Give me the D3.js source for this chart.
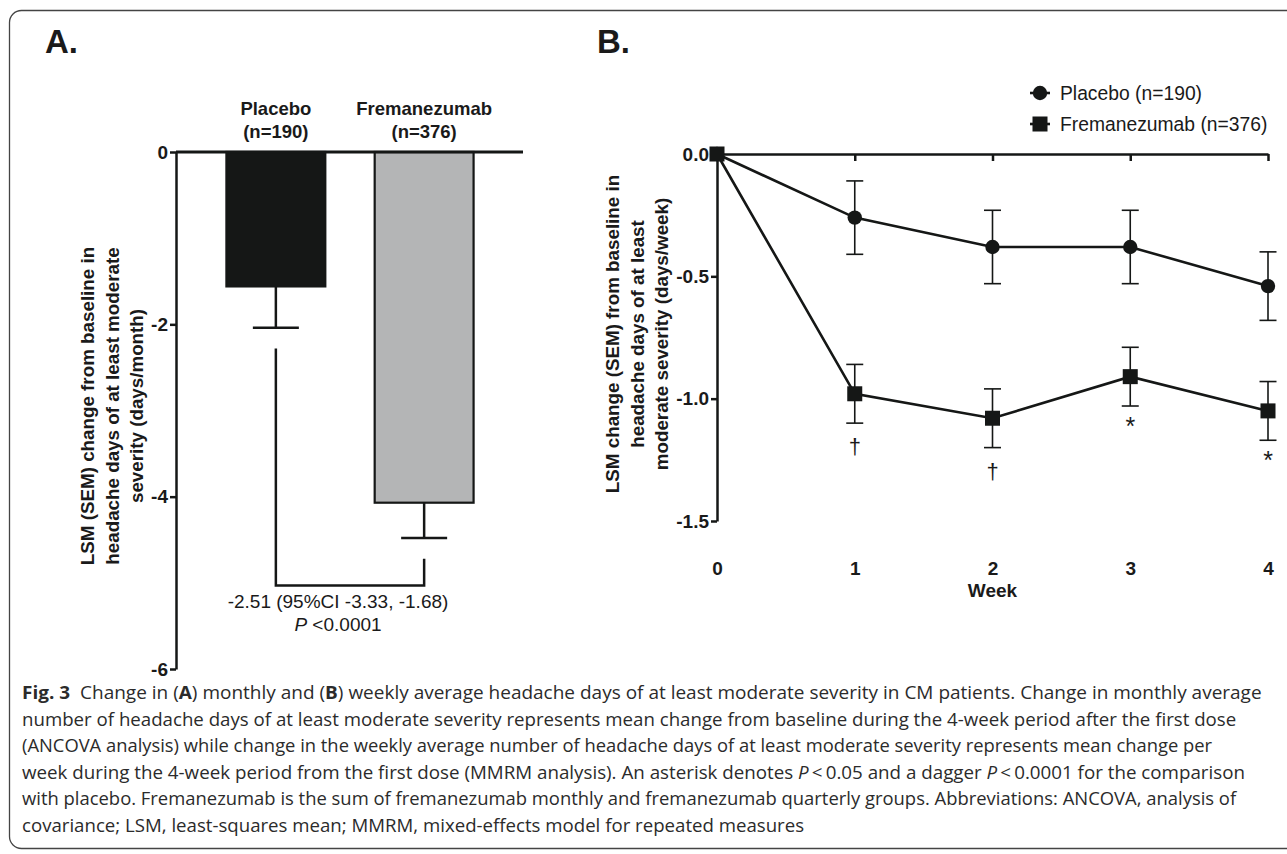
<!DOCTYPE html>
<html>
<head>
<meta charset="utf-8">
<script src="https://cdn.jsdelivr.net/npm/d3@7"></script>
<style>
  html, body { margin: 0; padding: 0; background: #fff; }
  svg { display: block; }
  .chart text { font-family: "Liberation Sans", Arial, sans-serif; fill: #1a1a1a; }
  .cap text { font-family: "Open Sans", "Noto Sans", sans-serif; fill: #2b2b2b; }
</style>
</head>
<body>
<svg id="fig" width="1287" height="854"></svg>
<script>
// ---------------- DATA ----------------
// Panel A (monthly)
const categoriesA = ["Placebo", "Fremanezumab"];
const nLabelsA = ["(n=190)", "(n=376)"];
const meanA = [-1.56, -4.07];
const semA = [0.48, 0.41];
const yTicksA = [0, -2, -4, -6];
const diffText = "-2.51 (95%CI -3.33, -1.68)";
const pText = "<0.0001";

// Panel B (weekly)
const weeks = [0, 1, 2, 3, 4];
const placeboMean = [0, -0.26, -0.38, -0.38, -0.54];
const placeboSem  = [0, 0.15, 0.15, 0.15, 0.14];
const fremMean    = [0, -0.98, -1.08, -0.91, -1.05];
const fremSem     = [0, 0.12, 0.12, 0.12, 0.12];
const sigMarks    = ["", "\u2020", "\u2020", "*", "*"];
const yTicksB = [0, -0.5, -1.0, -1.5];
const seriesNames = ["Placebo (n=190)", "Fremanezumab (n=376)"];

// Caption
const captionLines = [
  [["Fig. 3", "b"], ["\u00a0\u00a0Change in ("], ["A", "b"], [") monthly and ("], ["B", "b"], [") weekly average headache days of at least moderate severity in CM patients. Change in monthly average"]],
  [["number of headache days of at least moderate severity represents mean change from baseline during the 4-week period after the first dose"]],
  [["(ANCOVA analysis) while change in the weekly average number of headache days of at least moderate severity represents mean change per"]],
  [["week during the 4-week period from the first dose (MMRM analysis). An asterisk denotes "], ["P", "i"], ["\u2009<\u20090.05 and a dagger "], ["P", "i"], ["\u2009<\u20090.0001 for the comparison"]],
  [["with placebo. Fremanezumab is the sum of fremanezumab monthly and fremanezumab quarterly groups. Abbreviations: ANCOVA, analysis of"]],
  [["covariance; LSM, least-squares mean; MMRM, mixed-effects model for repeated measures"]]
];

// ---------------- DRAW ----------------
const svg = d3.select("#fig");

// frame
svg.append("rect")
  .attr("x", 9.5).attr("y", 10.5).attr("width", 1300).attr("height", 838)
  .attr("rx", 12).attr("ry", 12)
  .attr("fill", "none").attr("stroke", "#444").attr("stroke-width", 1.3);

const chart = svg.append("g").attr("class", "chart");

// panel letters
chart.append("text").attr("x", 45).attr("y", 53).attr("font-size", 33).attr("font-weight", "bold").text("A.");
chart.append("text").attr("x", 597).attr("y", 53).attr("font-size", 33).attr("font-weight", "bold").text("B.");

// ===== Panel A =====
const yA = d3.scaleLinear().domain([0, -6]).range([152, 669]);
const xA = d3.scaleBand().domain(categoriesA).range([176, 524]).paddingInner(0.333).paddingOuter(0.34);

const gA = chart.append("g");

// bars
gA.selectAll("rect.bar").data(categoriesA).join("rect")
  .attr("class", "bar")
  .attr("x", d => xA(d))
  .attr("y", yA(0))
  .attr("width", xA.bandwidth())
  .attr("height", (d, i) => yA(meanA[i]) - yA(0))
  .attr("fill", (d, i) => i === 0 ? "#151716" : "#b4b5b6")
  .attr("stroke", "#151716").attr("stroke-width", 2.2);

// error bars
const capA = 46;
categoriesA.forEach((c, i) => {
  const cx = xA(c) + xA.bandwidth() / 2;
  gA.append("line").attr("x1", cx).attr("x2", cx)
    .attr("y1", yA(meanA[i])).attr("y2", yA(meanA[i] - semA[i]))
    .attr("stroke", "#151716").attr("stroke-width", 2.5);
  gA.append("line").attr("x1", cx - capA / 2).attr("x2", cx + capA / 2)
    .attr("y1", yA(meanA[i] - semA[i])).attr("y2", yA(meanA[i] - semA[i]))
    .attr("stroke", "#151716").attr("stroke-width", 2.5);
  // category labels
  gA.append("text").attr("x", cx).attr("y", 115).attr("text-anchor", "middle")
    .attr("font-size", 18.5).attr("font-weight", "bold").text(c);
  gA.append("text").attr("x", cx).attr("y", 138).attr("text-anchor", "middle")
    .attr("font-size", 18.5).attr("font-weight", "bold").text(nLabelsA[i]);
});

// zero line across
gA.append("line").attr("x1", 176).attr("x2", 523).attr("y1", yA(0)).attr("y2", yA(0))
  .attr("stroke", "#151716").attr("stroke-width", 3);

// y axis
const axA = gA.append("g").attr("transform", "translate(176,0)")
  .call(d3.axisLeft(yA).tickValues(yTicksA).tickSize(6).tickSizeOuter(0).tickFormat(d => String(d)));
axA.select(".domain").attr("stroke", "#151716").attr("stroke-width", 2.5);
axA.selectAll(".tick line").attr("stroke", "#151716").attr("stroke-width", 2.5);
axA.selectAll(".tick text").attr("font-size", 19).attr("font-weight", "bold")
  .attr("font-family", "Liberation Sans, Arial, sans-serif").attr("fill", "#1a1a1a").attr("dx", 1);

// y label A
const labA = ["LSM (SEM) change from baseline in", "headache days of at least moderate", "severity (days/month)"];
labA.forEach((t, i) => {
  gA.append("text")
    .attr("transform", `translate(${94 + i * 24.5},406) rotate(-90)`)
    .attr("text-anchor", "middle").attr("font-size", 18.8).attr("font-weight", "bold").text(t);
});

// bracket
const cxP = xA(categoriesA[0]) + xA.bandwidth() / 2;
const cxF = xA(categoriesA[1]) + xA.bandwidth() / 2;
const bracketVal = -5.03;
const gapVal = 0.24;
gA.append("path")
  .attr("d", `M${cxP},${yA(meanA[0] - semA[0] - gapVal)} V${yA(bracketVal)} H${cxF} V${yA(meanA[1] - semA[1] - gapVal)}`)
  .attr("fill", "none").attr("stroke", "#151716").attr("stroke-width", 2.5);
gA.append("text").attr("x", 338).attr("y", 608).attr("text-anchor", "middle")
  .attr("font-size", 19).text(diffText);
const pt = gA.append("text").attr("x", 338).attr("y", 631).attr("text-anchor", "middle").attr("font-size", 19);
pt.append("tspan").attr("font-style", "italic").text("P");
pt.append("tspan").text(" " + pText);

// ===== Panel B =====
const xB = d3.scaleLinear().domain([0, 4]).range([717, 1268]);
const yB = d3.scaleLinear().domain([0, -1.5]).range([154, 521]);
const gB = chart.append("g");

// top axis line at y=0 with ticks down
const axTop = gB.append("g").attr("transform", `translate(0,${yB(0)})`)
  .call(d3.axisBottom(xB).tickValues(weeks.slice(1)).tickSize(7).tickSizeOuter(0).tickFormat(""));
axTop.select(".domain").attr("stroke", "#151716").attr("stroke-width", 2.5);
axTop.selectAll(".tick line").attr("stroke", "#151716").attr("stroke-width", 2.5);

// bottom tick labels (no line)
const axBot = gB.append("g").attr("transform", "translate(0,558)")
  .call(d3.axisBottom(xB).tickValues(weeks).tickSize(0).tickFormat(d => String(d)));
axBot.select(".domain").remove();
axBot.selectAll(".tick text").attr("font-size", 19).attr("font-weight", "bold")
  .attr("font-family", "Liberation Sans, Arial, sans-serif").attr("fill", "#1a1a1a");
gB.append("text").attr("x", xB(2)).attr("y", 597).attr("text-anchor", "middle")
  .attr("font-size", 19).attr("font-weight", "bold").text("Week");

// y axis
const axB = gB.append("g").attr("transform", `translate(${xB(0)},0)`)
  .call(d3.axisLeft(yB).tickValues(yTicksB).tickSize(6).tickSizeOuter(0).tickFormat(d => d.toFixed(1)));
axB.select(".domain").attr("stroke", "#151716").attr("stroke-width", 2.5);
axB.selectAll(".tick line").attr("stroke", "#151716").attr("stroke-width", 2.5);
axB.selectAll(".tick text").attr("font-size", 19).attr("font-weight", "bold")
  .attr("font-family", "Liberation Sans, Arial, sans-serif").attr("fill", "#1a1a1a").attr("dx", 1);

// y label B
const labB = ["LSM change (SEM) from baseline in", "headache days of at least", "moderate severity (days/week)"];
labB.forEach((t, i) => {
  gB.append("text")
    .attr("transform", `translate(${619 + i * 24.5},334) rotate(-90)`)
    .attr("text-anchor", "middle").attr("font-size", 18.8).attr("font-weight", "bold").text(t);
});

// error bars
const capB = 17;
function errBars(mean, sem) {
  weeks.forEach((w, i) => {
    if (sem[i] === 0) return;
    const cx = xB(w);
    gB.append("line").attr("x1", cx).attr("x2", cx)
      .attr("y1", yB(mean[i] + sem[i])).attr("y2", yB(mean[i] - sem[i]))
      .attr("stroke", "#151716").attr("stroke-width", 1.6);
    [mean[i] + sem[i], mean[i] - sem[i]].forEach(v => {
      gB.append("line").attr("x1", cx - capB / 2).attr("x2", cx + capB / 2)
        .attr("y1", yB(v)).attr("y2", yB(v))
        .attr("stroke", "#151716").attr("stroke-width", 1.6);
    });
  });
}
errBars(placeboMean, placeboSem);
errBars(fremMean, fremSem);

const line = d3.line().x(d => xB(d[0])).y(d => yB(d[1]));
gB.append("path").datum(weeks.map((w, i) => [w, placeboMean[i]]))
  .attr("d", line).attr("fill", "none").attr("stroke", "#151716").attr("stroke-width", 2.6);
gB.append("path").datum(weeks.map((w, i) => [w, fremMean[i]]))
  .attr("d", line).attr("fill", "none").attr("stroke", "#151716").attr("stroke-width", 2.6);

// markers
gB.selectAll("circle.pl").data(weeks).join("circle").attr("class", "pl")
  .attr("cx", d => xB(d)).attr("cy", (d, i) => yB(placeboMean[i])).attr("r", 7.2)
  .attr("fill", "#151716");
const sq = 15;
gB.selectAll("rect.fr").data(weeks).join("rect").attr("class", "fr")
  .attr("x", d => xB(d) - sq / 2).attr("y", (d, i) => yB(fremMean[i]) - sq / 2)
  .attr("width", sq).attr("height", sq).attr("fill", "#151716");

// significance marks
weeks.forEach((w, i) => {
  if (!sigMarks[i]) return;
  const low = yB(fremMean[i] - fremSem[i]);
  const isDagger = sigMarks[i] === "\u2020";
  gB.append("text").attr("x", xB(w)).attr("y", low + (isDagger ? 31 : 29))
    .attr("text-anchor", "middle").attr("font-size", isDagger ? 22 : 25).text(sigMarks[i]);
});

// legend
const legX = 1040, legY = [93, 124];
seriesNames.forEach((name, i) => {
  const gl = gB.append("g");
  gl.append("line").attr("x1", legX - 10).attr("x2", legX + 10).attr("y1", legY[i]).attr("y2", legY[i])
    .attr("stroke", "#151716").attr("stroke-width", 2.6);
  if (i === 0) {
    gl.append("circle").attr("cx", legX).attr("cy", legY[i]).attr("r", 7.2).attr("fill", "#151716");
  } else {
    gl.append("rect").attr("x", legX - sq / 2).attr("y", legY[i] - sq / 2).attr("width", sq).attr("height", sq).attr("fill", "#151716");
  }
  gl.append("text").attr("x", 1060).attr("y", legY[i] + 7).attr("font-size", 19.3).text(name);
});

// ===== Caption =====
const cap = svg.append("g").attr("class", "cap");
const capX = 22;
const capBase = [699, 725.5, 752, 778.5, 805, 831.5];
const capEnds = [1262, 1237, 1213, 1246, 1237, null];
const scales = [];
const texts = [];
captionLines.forEach((segs, li) => {
  const t = cap.append("text").attr("x", 0).attr("y", 0).attr("font-size", 18);
  segs.forEach(s => {
    const ts = t.append("tspan").text(s[0]);
    if (s[1] === "b") ts.attr("font-weight", "bold");
    if (s[1] === "i") ts.attr("font-style", "italic");
  });
  const w = t.node().getComputedTextLength();
  texts.push([t, w]);
  if (capEnds[li] !== null) scales.push((capEnds[li] - capX) / w);
});
const avgScale = d3.mean(scales);
texts.forEach(([t, w], li) => {
  const k = capEnds[li] !== null ? (capEnds[li] - capX) / w : avgScale;
  t.attr("transform", `translate(${capX},${capBase[li]}) scale(${k},1)`);
});
</script>
</body>
</html>
